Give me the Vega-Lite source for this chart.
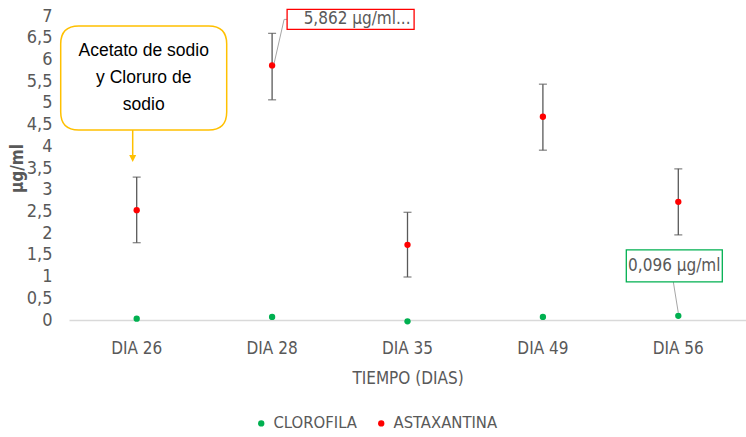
{
  "$schema": "https://vega.github.io/schema/vega-lite/v6.json",
  "autosize": "none",
  "width": 677,
  "height": 304,
  "padding": {"left": 69, "top": 16, "right": 0, "bottom": 117},
  "background": "white",
  "config": {
    "view": {"stroke": null},
    "font": "DejaVu Sans Condensed, Roboto, sans-serif"
  },
  "datasets": {
    "medidas": [
      {"dia": "DIA 26", "serie": "CLOROFILA", "valor": 0.03},
      {"dia": "DIA 28", "serie": "CLOROFILA", "valor": 0.07},
      {"dia": "DIA 35", "serie": "CLOROFILA", "valor": -0.03},
      {"dia": "DIA 49", "serie": "CLOROFILA", "valor": 0.07},
      {"dia": "DIA 56", "serie": "CLOROFILA", "valor": 0.096},
      {"dia": "DIA 26", "serie": "ASTAXANTINA", "valor": 2.53, "bajo": 1.78, "alto": 3.29},
      {"dia": "DIA 28", "serie": "ASTAXANTINA", "valor": 5.862, "bajo": 5.07, "alto": 6.6},
      {"dia": "DIA 35", "serie": "ASTAXANTINA", "valor": 1.73, "bajo": 0.99, "alto": 2.48},
      {"dia": "DIA 49", "serie": "ASTAXANTINA", "valor": 4.68, "bajo": 3.91, "alto": 5.43},
      {"dia": "DIA 56", "serie": "ASTAXANTINA", "valor": 2.72, "bajo": 1.96, "alto": 3.48}
    ],
    "nota": [{"dia": "DIA 26", "valor": 5.57, "texto": ["Acetato de sodio", "y Cloruro de", "sodio"]}],
    "etiquetaRoja": [{"dia": "DIA 28", "valor": 5.862, "texto": "5,862 µg/ml..."}],
    "etiquetaVerde": [{"dia": "DIA 56", "valor": 0.096, "texto": "0,096 µg/ml"}]
  },
  "encoding": {
    "x": {
      "field": "dia", "type": "nominal",
      "scale": {"type": "band", "domain": ["DIA 26", "DIA 28", "DIA 35", "DIA 49", "DIA 56"], "paddingInner": 0, "paddingOuter": 0},
      "axis": {
        "title": "TIEMPO (DIAS)", "labelAngle": 0, "ticks": false, "tickSize": 0,
        "domainColor": "#d9d9d9", "domainWidth": 1.5,
        "labelFontSize": 17, "labelColor": "#595959", "labelPadding": 20,
        "titleFontSize": 17, "titleFontWeight": "normal", "titleColor": "#595959", "titlePadding": 14
      }
    },
    "y": {
      "field": "valor", "type": "quantitative",
      "scale": {"domain": [0, 7], "nice": false, "zero": false},
      "axis": {
        "title": "µg/ml", "values": [0, 0.5, 1, 1.5, 2, 2.5, 3, 3.5, 4, 4.5, 5, 5.5, 6, 6.5, 7],
        "format": ".1~f", "labelExpr": "replace(datum.label, '.', ',')",
        "domain": false, "ticks": false, "grid": false, "labelOverlap": false,
        "labelFontSize": 18, "labelColor": "#595959", "labelPadding": 17,
        "titleFontSize": 17, "titleFontWeight": "bold", "titleColor": "#595959", "titlePadding": 0
      }
    }
  },
  "layer": [
    {
      "data": {"name": "medidas"},
      "transform": [{"filter": "datum.serie === 'ASTAXANTINA'"}],
      "mark": {"type": "rule", "color": "#595959", "strokeWidth": 1.3},
      "encoding": {"y": {"field": "bajo", "type": "quantitative"}, "y2": {"field": "alto"}}
    },
    {
      "data": {"name": "medidas"},
      "transform": [{"filter": "datum.serie === 'ASTAXANTINA'"}],
      "mark": {"type": "tick", "color": "#595959", "size": 8, "thickness": 1.3},
      "encoding": {"y": {"field": "bajo", "type": "quantitative"}}
    },
    {
      "data": {"name": "medidas"},
      "transform": [{"filter": "datum.serie === 'ASTAXANTINA'"}],
      "mark": {"type": "tick", "color": "#595959", "size": 8, "thickness": 1.3},
      "encoding": {"y": {"field": "alto", "type": "quantitative"}}
    },
    {
      "data": {"name": "medidas"},
      "mark": {"type": "point", "filled": true, "size": 40, "opacity": 1},
      "encoding": {
        "color": {
          "field": "serie", "type": "nominal",
          "scale": {"domain": ["CLOROFILA", "ASTAXANTINA"], "range": ["#00B050", "#FF0000"]},
          "legend": {
            "title": null, "orient": "none", "direction": "horizontal", "legendX": 184, "legendY": 399,
            "labelFontSize": 16.5, "labelColor": "#595959", "symbolSize": 40, "symbolType": "circle",
            "columnPadding": 16
          }
        }
      }
    },
    {
      "data": {"name": "nota"},
      "mark": {"type": "point", "filled": true, "fill": "white", "stroke": "#FFC000", "strokeWidth": 1.5, "opacity": 1, "size": 4,
        "shape": "M-58,-52H72Q90,-52 90,-34V34Q90,52 72,52H-58Q-76,52 -76,34V-34Q-76,-52 -58,-52ZM-4,52V79"}
    },
    {
      "data": {"name": "nota"},
      "mark": {"type": "point", "filled": true, "fill": "#FFC000", "strokeWidth": 0, "opacity": 1, "size": 4,
        "shape": "M-7.5,77L-0.5,77L-4,84Z"}
    },
    {
      "data": {"name": "nota"},
      "mark": {"type": "text", "font": "Liberation Sans, Arial, sans-serif", "fontSize": 17.5, "color": "#000000", "align": "center", "baseline": "middle", "lineHeight": 27, "dx": 7, "dy": -27},
      "encoding": {"text": {"field": "texto"}}
    },
    {
      "data": {"name": "etiquetaRoja"},
      "mark": {"type": "point", "filled": false, "stroke": "#A6A6A6", "strokeWidth": 1, "opacity": 1, "size": 4,
        "shape": "M2,-2L12,-46L15,-46"}
    },
    {
      "data": {"name": "etiquetaRoja"},
      "mark": {"type": "point", "filled": true, "fill": "white", "stroke": "#FF0000", "strokeWidth": 1.3, "opacity": 1, "size": 4,
        "shape": "M15,-56H142V-36H15Z"}
    },
    {
      "data": {"name": "etiquetaRoja"},
      "mark": {"type": "text", "fontSize": 17, "color": "#595959", "align": "center", "baseline": "middle", "dx": 85, "dy": -46},
      "encoding": {"text": {"field": "texto"}}
    },
    {
      "data": {"name": "etiquetaVerde"},
      "mark": {"type": "point", "filled": false, "stroke": "#A6A6A6", "strokeWidth": 1, "opacity": 1, "size": 4,
        "shape": "M0,-3L-5,-34"}
    },
    {
      "data": {"name": "etiquetaVerde"},
      "mark": {"type": "point", "filled": true, "fill": "white", "stroke": "#00B050", "strokeWidth": 1.3, "opacity": 1, "size": 4,
        "shape": "M-52,-66H44V-34H-52Z"}
    },
    {
      "data": {"name": "etiquetaVerde"},
      "mark": {"type": "text", "fontSize": 17, "color": "#595959", "align": "center", "baseline": "middle", "dx": -4, "dy": -50},
      "encoding": {"text": {"field": "texto"}}
    }
  ]
}
